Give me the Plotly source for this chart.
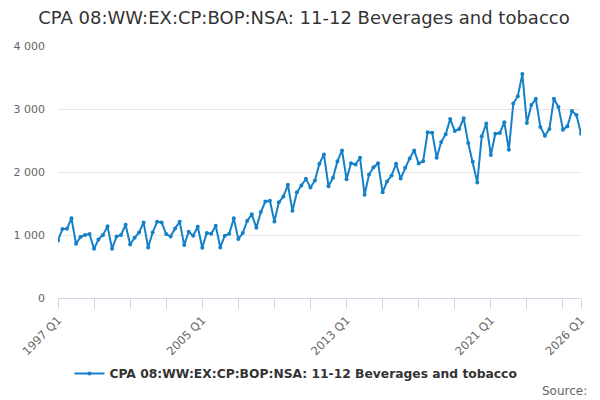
import pandas as pd
import plotly.graph_objects as go

SERIES_NAME = "CPA 08:WW:EX:CP:BOP:NSA: 11-12 Beverages and tobacco"
FIRST_QUARTER = "1997Q1"

# quarterly values, 1997 Q1 .. 2026 Q1
VALUES = [
    913, 1095, 1100, 1264, 860, 970, 1000, 1015,
    780, 930, 1000, 1137, 780, 977, 1000, 1163,
    850, 956, 1040, 1200, 802, 1040, 1210, 1200,
    1015, 977, 1105, 1211, 840, 1052, 988, 1131,
    797, 1031, 1020, 1147, 802, 988, 1020, 1264,
    935, 1031, 1227, 1328, 1115, 1365, 1530, 1545,
    1216, 1519, 1610, 1796, 1386, 1678, 1785, 1891,
    1753, 1865, 2130, 2279, 1774, 1907, 2172, 2343,
    1886, 2140, 2120, 2226, 1640, 1960, 2077, 2140,
    1678, 1849, 1944, 2130, 1896, 2066, 2215, 2343,
    2135, 2172, 2630, 2624, 2226, 2475, 2598, 2842,
    2650, 2683, 2853, 2459, 2163, 1833, 2566, 2768,
    2268, 2608, 2619, 2789, 2353, 3087, 3203, 3554,
    2778, 3065, 3161, 2714, 2576, 2683, 3161, 3033,
    2672, 2725, 2969, 2906, 2608,
]

X_TICK_LABELS = ["1997 Q1", "2005 Q1", "2013 Q1", "2021 Q1", "2026 Q1"]
Y_TICKS = [0, 1000, 2000, 3000, 4000]

LINE_COLOR = "#1380c8"
AXIS_COLOR = "#ccd6eb"

periods = pd.period_range(FIRST_QUARTER, periods=len(VALUES), freq="Q")
dates = periods.to_timestamp()
labels = [f"{p.year} Q{p.quarter}" for p in periods]
tick_dates = [pd.Period(t.replace(" ", ""), freq="Q").to_timestamp() for t in X_TICK_LABELS]

fig = go.Figure()
fig.add_trace(
    go.Scatter(
        x=dates,
        y=VALUES,
        mode="lines+markers",
        name=SERIES_NAME,
        line=dict(color=LINE_COLOR, width=2),
        marker=dict(color=LINE_COLOR, size=4),
        text=labels,
        hovertemplate="%{text}: %{y}<extra></extra>",
    )
)

# the page body keeps its default 8px margin, so the figure is 8px smaller
fig.update_layout(
    width=592,
    height=392,
    margin=dict(l=50, r=19, t=38, b=95),
    paper_bgcolor="white",
    plot_bgcolor="white",
    separators=". ",
    font=dict(family="DejaVu Sans", color="#666666", size=11),
    title=dict(
        text=SERIES_NAME,
        x=0.5,
        xanchor="center",
        y=0.975,
        yanchor="middle",
        font=dict(size=18, color="#333333"),
    ),
    showlegend=True,
    legend=dict(
        orientation="h",
        x=0.455,
        xanchor="center",
        y=-0.30,
        yanchor="middle",
        itemwidth=30,
        font=dict(size=12.3, color="#333333", weight="bold"),
    ),
    xaxis=dict(
        range=[dates[0], dates[-1]],
        tickvals=tick_dates,
        ticktext=X_TICK_LABELS,
        tickangle=-45,
        ticks="outside",
        ticklen=10,
        tickcolor=AXIS_COLOR,
        showline=True,
        linecolor=AXIS_COLOR,
        showgrid=False,
        zeroline=False,
        automargin=False,
        tickfont=dict(size=11.5),
        minor=dict(ticks="outside", ticklen=10, tickcolor=AXIS_COLOR, dtick="M24", tick0=dates[0], showgrid=False),
    ),
    yaxis=dict(
        range=[0, 4000],
        tickvals=Y_TICKS,
        tickformat=",d",
        showgrid=True,
        gridcolor="#e6e6e6",
        zeroline=False,
        showline=False,
        ticks="",
        automargin=False,
        ticklabelstandoff=12,
    ),
)

fig.add_annotation(
    text="Source:",
    xref="paper",
    yref="paper",
    x=1.015,
    y=-0.37,
    xanchor="right",
    yanchor="middle",
    showarrow=False,
    font=dict(size=12, color="#666666"),
)

fig.write_html("out.html")
